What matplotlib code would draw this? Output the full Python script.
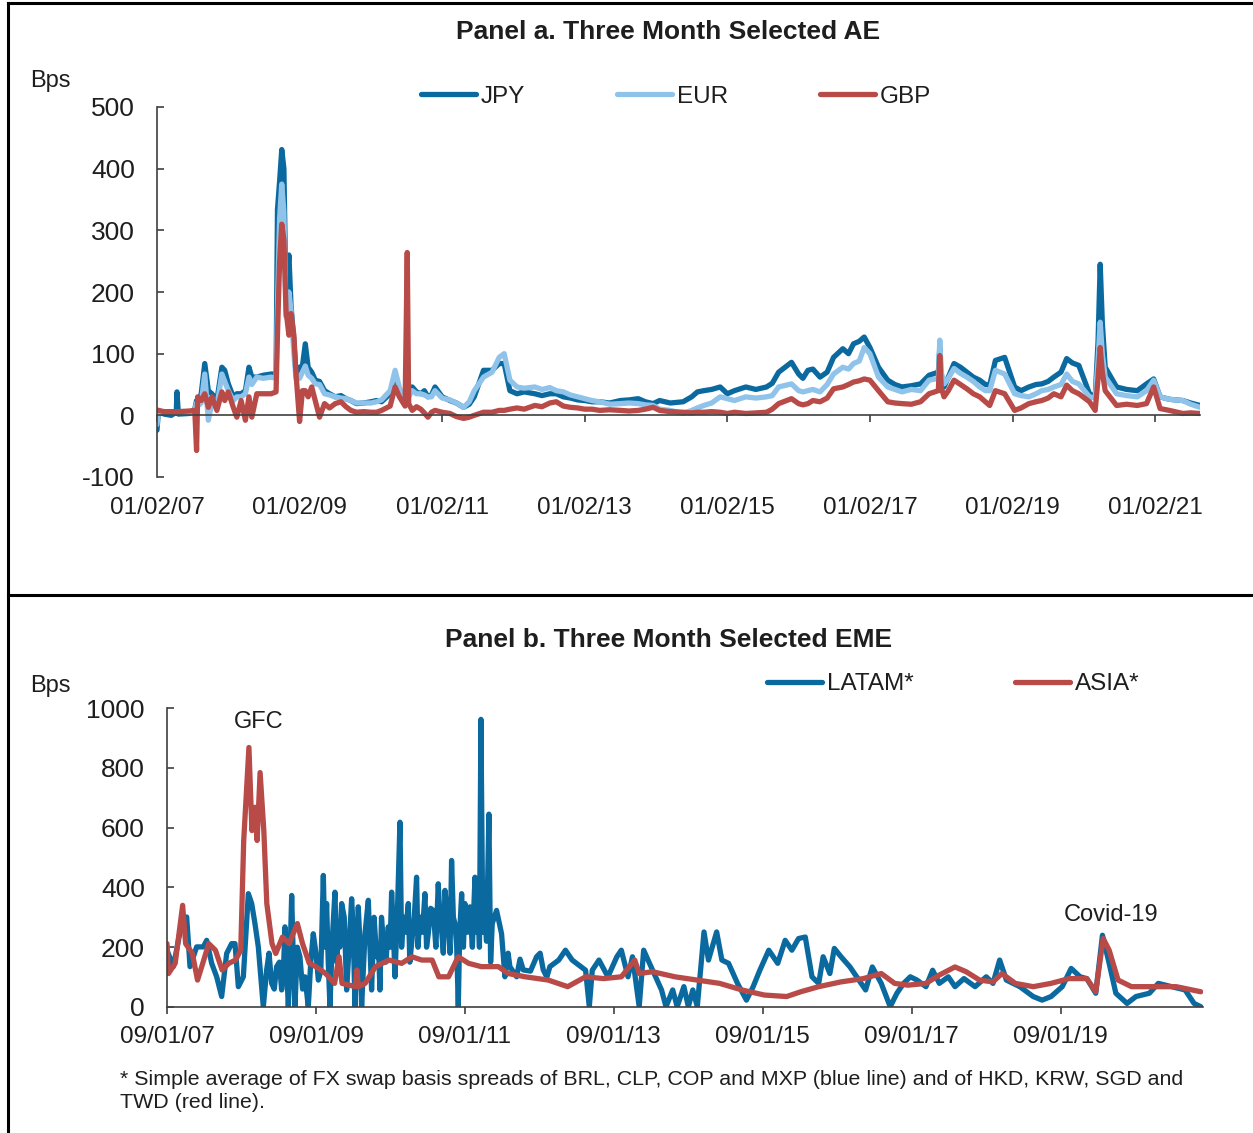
import matplotlib
matplotlib.use('Agg')
import matplotlib.pyplot as plt
from matplotlib.lines import Line2D

plt.rcParams['font.family'] = ['Liberation Sans', 'DejaVu Sans']
plt.rcParams['axes.unicode_minus'] = False

# ---- panel a: three month basis, selected AE (bps), dates as fractional years
ae_t = [2007.00, 2007.02, 2007.10, 2007.20, 2007.27, 2007.28, 2007.30, 2007.45, 2007.53, 2007.555,
        2007.57, 2007.62, 2007.67, 2007.72, 2007.77, 2007.84, 2007.91, 2007.95, 2008.00, 2008.07,
        2008.12, 2008.18, 2008.24, 2008.29, 2008.33, 2008.40, 2008.49, 2008.60, 2008.67, 2008.69,
        2008.72, 2008.75, 2008.78, 2008.81, 2008.85, 2008.88, 2008.92, 2008.95, 2009.00, 2009.04,
        2009.08, 2009.12, 2009.17, 2009.22, 2009.28, 2009.35, 2009.42, 2009.50, 2009.58, 2009.65,
        2009.72, 2009.80, 2009.90, 2010.00, 2010.08, 2010.15, 2010.27, 2010.34, 2010.40, 2010.48,
        2010.51, 2010.53, 2010.58, 2010.64, 2010.70, 2010.75, 2010.80, 2010.85, 2010.90, 2011.00,
        2011.11, 2011.20, 2011.30, 2011.38, 2011.45, 2011.58, 2011.70, 2011.80, 2011.87, 2011.95,
        2012.05, 2012.15, 2012.30, 2012.40, 2012.51, 2012.60, 2012.70, 2012.80, 2012.90, 2013.00,
        2013.10, 2013.21, 2013.35, 2013.50, 2013.62, 2013.75, 2013.85, 2013.96, 2014.05, 2014.20,
        2014.38, 2014.50, 2014.58, 2014.67, 2014.78, 2014.90, 2015.00, 2015.10, 2015.26, 2015.40,
        2015.55, 2015.63, 2015.72, 2015.90, 2016.00, 2016.06, 2016.13, 2016.20, 2016.30, 2016.40,
        2016.49, 2016.62, 2016.70, 2016.77, 2016.85, 2016.92, 2017.00, 2017.12, 2017.25, 2017.35,
        2017.45, 2017.58, 2017.71, 2017.83, 2017.96, 2017.98, 2018.00, 2018.04, 2018.10, 2018.18,
        2018.27, 2018.36, 2018.45, 2018.54, 2018.62, 2018.68, 2018.76, 2018.89, 2019.03, 2019.12,
        2019.23, 2019.33, 2019.41, 2019.50, 2019.58, 2019.68, 2019.76, 2019.84, 2019.93, 2020.08,
        2020.16, 2020.20, 2020.23, 2020.26, 2020.30, 2020.46, 2020.60, 2020.75, 2020.88, 2020.98,
        2021.07, 2021.20, 2021.39, 2021.50, 2021.63]
jpy = [-24, 8, 2, 0, 5, 38, 2, 3, 10, 24,
       20, 35, 84, 40, 35, 24, 78, 73, 51, 30,
       35, 35, 40, 78, 62, 62, 65, 67, 67, 334,
       380, 431, 400, 186, 260, 178, 120, 67, 78, 80,
       116, 78, 70, 57, 55, 40, 35, 30, 32, 27,
       24, 19, 20, 22, 24, 22, 35, 62, 40, 30,
       30, 35, 46, 38, 35, 40, 30, 33, 46, 30,
       24, 20, 13, 18, 30, 73, 73, 84, 84, 40,
       35, 38, 35, 32, 35, 35, 30, 28, 25, 24,
       22, 22, 20, 24, 25, 27, 22, 19, 24, 20,
       22, 30, 38, 40, 42, 46, 35, 40, 46, 42,
       46, 52, 70, 86, 67, 60, 73, 75, 62, 70,
       94, 108, 100, 116, 120, 127, 110, 78, 57, 50,
       46, 48, 51, 65, 70, 110, 60, 46, 62, 84,
       78, 70, 62, 57, 50, 49, 89, 94, 46, 40,
       46, 50, 51, 55, 62, 70, 92, 85, 81, 35,
       30, 120, 245, 150, 78, 46, 42, 40, 51, 59,
       30, 26, 24, 20, 16]
eur = [-15, 6, 5, 4, 4, 4, 4, 4, 8, 20,
       15, 20, 67, -8, 20, 15, 67, 55, 40, 24,
       30, 30, 35, 62, 50, 62, 60, 62, 60, 180,
       320, 375, 330, 160, 200, 170, 100, 60, 60, 70,
       80, 65, 60, 51, 50, 35, 33, 30, 28, 27,
       24, 20, 20, 20, 22, 25, 40, 73, 45, 25,
       28, 30, 40, 35, 35, 33, 30, 30, 40, 28,
       25, 20, 13, 22, 40, 62, 70, 94, 100, 57,
       46, 44, 46, 42, 45, 40, 38, 33, 30, 27,
       24, 22, 18, 19, 20, 19, 17, 16, 10, 8,
       3, 8, 12, 16, 20, 30, 27, 24, 30, 28,
       30, 32, 46, 51, 40, 38, 40, 42, 38, 50,
       67, 78, 75, 84, 88, 110, 100, 62, 46, 42,
       38, 42, 40, 57, 60, 122, 70, 51, 60, 76,
       68, 62, 55, 46, 40, 40, 73, 67, 35, 32,
       30, 35, 40, 42, 46, 50, 67, 55, 51, 30,
       28, 90, 151, 100, 62, 35, 32, 30, 40, 57,
       30, 26, 24, 18, 13]
gbp = [8, 8, 6, 6, 6, 6, 6, 7, 8, -57,
       30, 24, 35, 13, 30, 8, 38, 24, 38, 13,
       -3, 24, -8, 30, -3, 35, 35, 35, 38, 132,
       250, 310, 285, 170, 130, 165, 130, 67, -10, 40,
       40, 30, 46, 24, -3, 19, 12, 19, 22, 14,
       8, 5, 6, 5, 5, 8, 15, 46, 30, 15,
       264, 19, 8, 14, 10, 4, -3, 5, 8, 5,
       3, -2, -5, -3, 0, 5, 5, 8, 8, 10,
       12, 10, 16, 14, 20, 22, 15, 13, 12, 10,
       10, 8, 9, 8, 7, 8, 10, 13, 8, 6,
       5, 4, 5, 5, 6, 5, 3, 5, 3, 4,
       5, 10, 19, 27, 19, 17, 19, 24, 22, 28,
       43, 46, 50, 54, 56, 59, 57, 40, 22, 20,
       19, 18, 22, 35, 40, 97, 45, 30, 40, 57,
       50, 43, 35, 30, 22, 16, 40, 35, 8, 12,
       19, 22, 24, 28, 35, 30, 49, 40, 35, 22,
       8, 60, 110, 70, 40, 16, 18, 16, 19, 46,
       11, 8, 3, 4, 3]
ae_ticks = [2007, 2009, 2011, 2013, 2015, 2017, 2019, 2021]
ae_ticklabels = ['01/02/07', '01/02/09', '01/02/11', '01/02/13',
                 '01/02/15', '01/02/17', '01/02/19', '01/02/21']

# ---- panel b: three month basis, selected EME (bps), (date, value) pairs
asia_pts = [(2007.67, 212), (2007.69, 112), (2007.78, 146), (2007.88, 340), (2007.92, 212),
            (2008.01, 179), (2008.08, 90), (2008.15, 146), (2008.23, 212), (2008.32, 190),
            (2008.41, 124), (2008.50, 146), (2008.59, 157), (2008.66, 190), (2008.70, 557),
            (2008.77, 868), (2008.81, 590), (2008.85, 668), (2008.88, 557), (2008.92, 784),
            (2008.97, 590), (2009.01, 346), (2009.08, 212), (2009.13, 179), (2009.22, 234),
            (2009.31, 212), (2009.42, 279), (2009.49, 212), (2009.58, 146), (2009.67, 135),
            (2009.80, 112), (2009.92, 79), (2009.98, 168), (2010.02, 79), (2010.20, 68),
            (2010.22, 124), (2010.24, 68), (2010.33, 79), (2010.47, 135), (2010.65, 157),
            (2010.82, 146), (2010.96, 168), (2011.09, 157), (2011.23, 157), (2011.32, 101),
            (2011.45, 101), (2011.58, 168), (2011.72, 146), (2011.89, 135), (2012.12, 135),
            (2012.25, 112), (2012.48, 101), (2012.79, 90), (2013.05, 68), (2013.29, 101),
            (2013.53, 95), (2013.77, 101), (2013.95, 157), (2014.01, 112), (2014.19, 118),
            (2014.49, 101), (2014.79, 90), (2015.09, 79), (2015.39, 57), (2015.69, 40),
            (2015.99, 35), (2016.18, 51), (2016.42, 68), (2016.72, 84), (2017.02, 95),
            (2017.26, 112), (2017.44, 79), (2017.62, 73), (2017.86, 79), (2018.04, 107),
            (2018.25, 134), (2018.40, 118), (2018.58, 90), (2018.76, 84), (2018.88, 112),
            (2019.06, 79), (2019.30, 68), (2019.54, 79), (2019.78, 95), (2020.02, 95),
            (2020.14, 51), (2020.24, 229), (2020.32, 190), (2020.44, 90), (2020.62, 68),
            (2020.92, 68), (2021.22, 68), (2021.55, 51)]

latam_pts = [(2007.67, 190), (2007.755, 135), (2007.867, 279), (2007.934, 301), (2007.979, 135),
             (2008.068, 201), (2008.158, 201), (2008.203, 223), (2008.270, 146), (2008.337, 101),
             (2008.404, 35), (2008.471, 179), (2008.538, 212), (2008.583, 212), (2008.628, 68),
             (2008.695, 101), (2008.762, 379), (2008.807, 346), (2008.851, 279), (2008.896, 201),
             (2008.963, 0), (2009.008, 124), (2009.04, 180), (2009.075, 79), (2009.11, 60),
             (2009.142, 135), (2009.18, 150), (2009.209, 57), (2009.23, 100), (2009.254, 268),
             (2009.299, 0), (2009.32, 150), (2009.344, 373), (2009.37, 120), (2009.388, 0),
             (2009.42, 200), (2009.455, 168), (2009.49, 60), (2009.523, 101), (2009.567, 0),
             (2009.60, 150), (2009.634, 245), (2009.67, 180), (2009.702, 90), (2009.735, 120),
             (2009.769, 440), (2009.79, 200), (2009.813, 346), (2009.835, 150), (2009.858, 0),
             (2009.89, 230), (2009.925, 384), (2009.95, 150), (2009.970, 279), (2009.99, 200),
             (2010.015, 346), (2010.05, 300), (2010.082, 57), (2010.115, 200), (2010.149, 362),
             (2010.17, 260), (2010.194, 0), (2010.215, 150), (2010.238, 335), (2010.26, 220),
             (2010.283, 0), (2010.33, 250), (2010.373, 357), (2010.395, 200), (2010.417, 57),
             (2010.45, 300), (2010.485, 168), (2010.51, 200), (2010.529, 57), (2010.55, 300),
             (2010.574, 223), (2010.61, 150), (2010.641, 268), (2010.665, 200), (2010.686, 384),
             (2010.71, 250), (2010.731, 101), (2010.765, 330), (2010.798, 618), (2010.82, 200),
             (2010.843, 301), (2010.875, 250), (2010.910, 346), (2010.93, 150), (2010.954, 212),
             (2010.99, 300), (2011.021, 434), (2011.04, 200), (2011.066, 301), (2011.10, 250),
             (2011.133, 379), (2011.155, 200), (2011.178, 245), (2011.21, 330), (2011.245, 323),
             (2011.28, 200), (2011.312, 412), (2011.335, 300), (2011.357, 257), (2011.38, 180),
             (2011.402, 390), (2011.425, 330), (2011.446, 279), (2011.47, 180), (2011.491, 490),
             (2011.515, 300), (2011.536, 279), (2011.56, 200), (2011.581, 0), (2011.60, 250),
             (2011.626, 379), (2011.65, 200), (2011.670, 346), (2011.705, 250), (2011.737, 335),
             (2011.77, 200), (2011.805, 434), (2011.83, 250), (2011.849, 335), (2011.865, 200),
             (2011.885, 962), (2011.91, 250), (2011.930, 346), (2011.96, 220), (2011.992, 645),
             (2012.015, 150), (2012.037, 279), (2012.095, 323), (2012.162, 245), (2012.207, 101),
             (2012.25, 180), (2012.274, 135), (2012.364, 101), (2012.41, 160), (2012.453, 124),
             (2012.55, 120), (2012.632, 168), (2012.68, 180), (2012.722, 124), (2012.77, 100),
             (2012.811, 135), (2012.93, 157), (2013.02, 190), (2013.11, 157), (2013.20, 140),
             (2013.29, 123), (2013.34, 1), (2013.38, 123), (2013.47, 157), (2013.59, 101),
             (2013.71, 168), (2013.77, 190), (2013.86, 101), (2013.92, 168), (2014.01, 1),
             (2014.07, 190), (2014.19, 123), (2014.31, 57), (2014.37, 1), (2014.46, 57),
             (2014.52, 1), (2014.61, 68), (2014.67, 1), (2014.73, 57), (2014.79, 1),
             (2014.88, 251), (2014.94, 157), (2015.05, 251), (2015.12, 157), (2015.21, 146),
             (2015.33, 79), (2015.45, 23), (2015.54, 68), (2015.63, 123), (2015.75, 190),
             (2015.87, 146), (2015.97, 223), (2016.06, 190), (2016.15, 229), (2016.24, 234),
             (2016.33, 101), (2016.42, 79), (2016.48, 168), (2016.57, 112), (2016.63, 196),
             (2016.72, 168), (2016.84, 134), (2016.96, 90), (2017.05, 57), (2017.14, 134),
             (2017.26, 79), (2017.38, 1), (2017.47, 46), (2017.56, 79), (2017.65, 101),
             (2017.74, 90), (2017.86, 68), (2017.95, 123), (2018.04, 79), (2018.16, 101),
             (2018.25, 68), (2018.37, 95), (2018.52, 68), (2018.67, 101), (2018.76, 79),
             (2018.85, 157), (2018.94, 90), (2019.12, 68), (2019.30, 35), (2019.42, 23),
             (2019.54, 35), (2019.69, 68), (2019.81, 129), (2019.93, 101), (2020.02, 95),
             (2020.14, 46), (2020.23, 240), (2020.32, 146), (2020.41, 46), (2020.56, 12),
             (2020.68, 35), (2020.86, 46), (2020.98, 79), (2021.16, 68), (2021.34, 57),
             (2021.46, 12), (2021.55, 1)]
eme_ticks = [2007.67, 2009.67, 2011.67, 2013.67, 2015.67, 2017.67, 2019.67]
eme_ticklabels = ['09/01/07', '09/01/09', '09/01/11', '09/01/13',
                  '09/01/15', '09/01/17', '09/01/19']

dark_blue = '#0a6aa0'
light_blue = '#8fc3ea'
red = '#b84a48'
txt = '#1e1e1e'
axcol = '#404040'
W, H = 1253, 1133

fig = plt.figure(figsize=(W / 100, H / 100), dpi=100)

def style_axis(ax, xpad):
    for s in ['top', 'right']:
        ax.spines[s].set_visible(False)
    for s in ['left', 'bottom']:
        ax.spines[s].set_color(axcol)
        ax.spines[s].set_linewidth(1.2)
    ax.tick_params(axis='y', direction='in', length=5, width=1.2, color=axcol,
                   labelsize=19, labelcolor=txt, pad=16)
    ax.tick_params(axis='x', direction='out', length=5, width=1.2, color=axcol,
                   labelsize=17.5, labelcolor=txt, pad=xpad)

lw = 3.8
line_kw = dict(lw=lw, solid_joinstyle='round', solid_capstyle='round')

# panel a
ax1 = fig.add_axes([157 / W, 1 - 477 / H, (1200 - 157) / W, (477 - 107) / H])
ax1.plot(ae_t, jpy, color=dark_blue, label='JPY', **line_kw)
ax1.plot(ae_t, eur, color=light_blue, label='EUR', **line_kw)
ax1.plot(ae_t, gbp, color=red, label='GBP', **line_kw)
ax1.set_xlim(2007.0, 2021.63)
ax1.set_ylim(-100, 500)
ax1.set_yticks([-100, 0, 100, 200, 300, 400, 500])
ax1.set_xticks(ae_ticks)
ax1.set_xticklabels(ae_ticklabels)
ax1.spines['bottom'].set_position(('data', 0))
style_axis(ax1, 53.5)
ax1.legend(loc='center left', bbox_to_anchor=(421 / W, 1 - 97 / H), bbox_transform=fig.transFigure,
           ncol=3, frameon=False, borderpad=0, borderaxespad=0, handlelength=2.25,
           handletextpad=0.2, columnspacing=3.8, fontsize=17.5, labelcolor=txt)

# panel b
latam_t = [p[0] for p in latam_pts]
latam = [p[1] for p in latam_pts]
asia_t = [p[0] for p in asia_pts]
asia = [p[1] for p in asia_pts]

ax2 = fig.add_axes([167 / W, 1 - 1007 / H, (1203 - 167) / W, (1007 - 708) / H])
ax2.plot(latam_t, latam, color=dark_blue, label='LATAM*', **line_kw)
ax2.plot(asia_t, asia, color=red, label='ASIA*', **line_kw)
ax2.set_xlim(2007.67, 2021.58)
ax2.set_ylim(0, 1000)
ax2.set_yticks([0, 200, 400, 600, 800, 1000])
ax2.set_xticks(eme_ticks)
ax2.set_xticklabels(eme_ticklabels)
style_axis(ax2, 8.5)
ax2.legend(loc='center left', bbox_to_anchor=(767 / W, 1 - 684 / H), bbox_transform=fig.transFigure,
           ncol=2, frameon=False, borderpad=0, borderaxespad=0, handlelength=2.25,
           handletextpad=0.2, columnspacing=4.2, fontsize=17.5, labelcolor=txt)
ax2.text(2008.90, 953, 'GFC', ha='center', va='center', fontsize=17, color=txt)
ax2.text(2020.34, 307, 'Covid-19', ha='center', va='center', fontsize=17, color=txt)

# titles, units, note
fig.text(668 / W, 1 - 32 / H, 'Panel a. Three Month Selected AE', ha='center', va='center',
         fontsize=19, fontweight='bold', color=txt)
fig.text(669 / W, 1 - 640 / H, 'Panel b. Three Month Selected EME', ha='center', va='center',
         fontsize=19, fontweight='bold', color=txt)
fig.text(30 / W, 1 - 81 / H, 'Bps', va='center', fontsize=17, color=txt)
fig.text(30 / W, 1 - 686 / H, 'Bps', va='center', fontsize=17, color=txt)
fig.text(120 / W, 1 - 1070 / H,
         '* Simple average of FX swap basis spreads of BRL, CLP, COP and MXP (blue line) and of HKD, KRW, SGD and\nTWD (red line).',
         va='top', fontsize=15.4, color=txt, linespacing=1.3)

# box lines round the two panels
fig.add_artist(Line2D([8 / W, 1], [1 - 3 / H, 1 - 3 / H], transform=fig.transFigure, color='black', lw=2.2))
fig.add_artist(Line2D([8 / W, 8 / W], [0, 1 - 3 / H], transform=fig.transFigure, color='black', lw=2.2))
fig.add_artist(Line2D([8 / W, 1], [1 - 595 / H, 1 - 595 / H], transform=fig.transFigure, color='black', lw=2.2))

fig.savefig('out.png', dpi=100)
